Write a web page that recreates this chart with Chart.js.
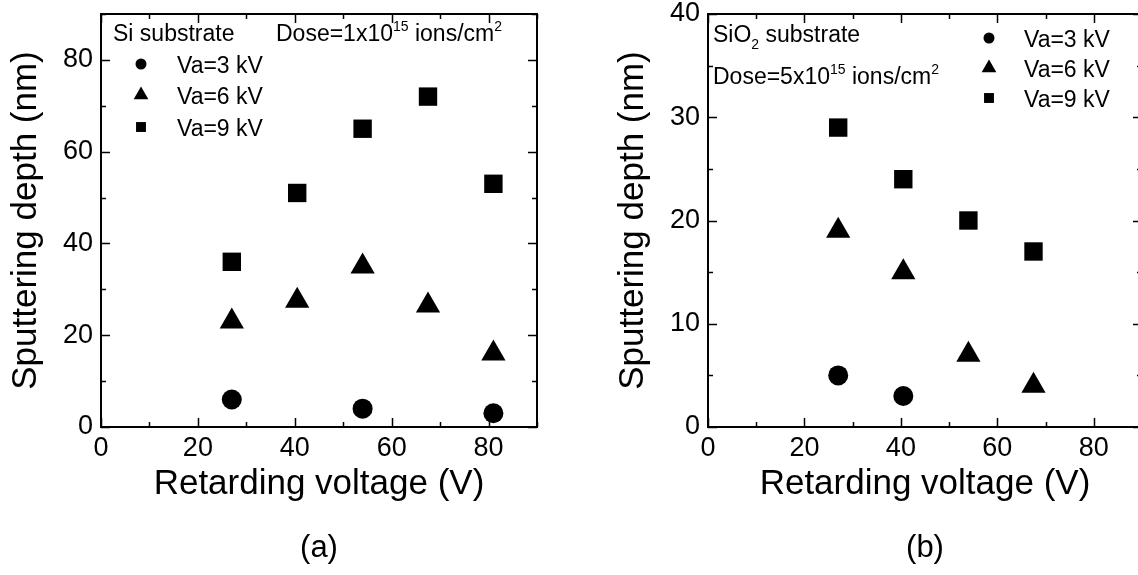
<!DOCTYPE html>
<html>
<head>
<meta charset="utf-8">
<script src="https://cdn.jsdelivr.net/npm/chart.js@4/dist/chart.umd.min.js"></script>
<style>
  html, body { margin: 0; padding: 0; background: #fff; overflow: hidden; }
  body { width: 1138px; height: 575px; position: relative; }
  .panel { position: absolute; top: 0; }
  #wrapA { left: 0; }
  #wrapB { left: 607px; }
</style>
</head>
<body>
<div class="panel" id="wrapA"><canvas id="cA" width="569" height="575"></canvas></div>
<div class="panel" id="wrapB"><canvas id="cB" width="600" height="575"></canvas></div>
<script>
// ---- data ----
// (a) Si substrate, dose 1x10^15 ions/cm^2
const siX3 = [27, 54, 81];
const siY3 = [6, 4, 3];
const siX6 = [27, 40.5, 54, 67.5, 81];
const siY6 = [23, 27.5, 35, 26.5, 16];
const siX9 = [27, 40.5, 54, 67.5, 81];
const siY9 = [36, 51, 65, 72, 53];

// (b) SiO2 substrate, dose 5x10^15 ions/cm^2
const oxX3 = [27, 40.5];
const oxY3 = [5, 3];
const oxX6 = [27, 40.5, 54, 67.5];
const oxY6 = [19, 15, 7, 4];
const oxX9 = [27, 40.5, 54, 67.5];
const oxY9 = [29, 24, 20, 17];

// tick values
const xTicks = [0, 20, 40, 60, 80];
const xMinorTicks = [10, 30, 50, 70, 90];
const yTicksA = [0, 20, 40, 60, 80];
const yMinorTicksA = [10, 30, 50, 70, 90];
const yTicksB = [0, 10, 20, 30, 40];
const yMinorTicksB = [5, 15, 25, 35];

const seriesLabels = ['Va=3 kV', 'Va=6 kV', 'Va=9 kV'];
const FONT = "'Liberation Sans', Arial, sans-serif";

function pts(xs, ys) { return xs.map((x, i) => ({x: x, y: ys[i]})); }

// frame + inward ticks on all four sides
const framePlugin = {
  id: 'frame',
  afterDatasetsDraw(chart, args, opts) {
    const {ctx, chartArea: ca, scales} = chart;
    const xs = scales.x, ys = scales.y;
    ctx.save();
    ctx.strokeStyle = '#000';
    ctx.lineWidth = 2;
    ctx.strokeRect(ca.left, ca.top, ca.right - ca.left, ca.bottom - ca.top);
    ctx.lineWidth = 1.5;
    const tick = (vals, len) => {
      vals.forEach(v => {
        const px = Math.round(xs.getPixelForValue(v)) + 0.5;
        if (px < ca.left - 1 || px > ca.right + 1) return;
        ctx.beginPath();
        ctx.moveTo(px, ca.bottom); ctx.lineTo(px, ca.bottom - len);
        ctx.moveTo(px, ca.top); ctx.lineTo(px, ca.top + len);
        ctx.stroke();
      });
    };
    const ytick = (vals, len) => {
      vals.forEach(v => {
        const py = Math.round(ys.getPixelForValue(v)) + 0.5;
        if (py < ca.top - 1 || py > ca.bottom + 1) return;
        ctx.beginPath();
        ctx.moveTo(ca.left, py); ctx.lineTo(ca.left + len, py);
        ctx.moveTo(ca.right, py); ctx.lineTo(ca.right - len, py);
        ctx.stroke();
      });
    };
    tick(opts.xMajor, 9); tick(opts.xMinor, 5);
    ytick(opts.yMajor, 9); ytick(opts.yMinor, 5);
    ctx.restore();
  }
};

function drawSymbol(ctx, style, x, y, r) {
  ctx.beginPath();
  if (style === 'circle') {
    ctx.arc(x, y, r, 0, Math.PI * 2);
  } else if (style === 'triangle') {
    const h = r * Math.sqrt(3) / 2;
    ctx.moveTo(x, y - r);
    ctx.lineTo(x + h, y + r / 2);
    ctx.lineTo(x - h, y + r / 2);
    ctx.closePath();
  } else {
    const s = r * Math.SQRT1_2;
    ctx.rect(x - s, y - s, 2 * s, 2 * s);
  }
  ctx.fill();
}

// text with super/subscripts: parts = [[text, 'sup'|'sub'|'']]
function drawRich(ctx, parts, x, y, size) {
  let cx = x;
  parts.forEach(([t, mode]) => {
    let fs = size, dy = 0;
    if (mode === 'sup') { fs = Math.round(size * 0.62); dy = -size * 0.45; }
    if (mode === 'sub') { fs = Math.round(size * 0.62); dy = size * 0.3; }
    ctx.font = fs + 'px ' + FONT;
    ctx.fillText(t, cx, y + dy);
    cx += ctx.measureText(t).width;
  });
}

// in-plot captions, key and panel label
const notesPlugin = {
  id: 'notes',
  afterDraw(chart, args, opts) {
    const {ctx, chartArea: ca} = chart;
    ctx.save();
    ctx.fillStyle = '#000';
    ctx.textBaseline = 'alphabetic';
    ctx.textAlign = 'left';
    opts.captions.forEach(c => drawRich(ctx, c.parts, ca.left + c.dx, c.y, 23));
    const styles = ['circle', 'triangle', 'rect'];
    const rads = [5.5, 8.5, 7];
    opts.key.rows.forEach((yc, i) => {
      drawSymbol(ctx, styles[i], ca.left + opts.key.symX, yc, rads[i]);
      ctx.font = '23px ' + FONT;
      ctx.fillText(seriesLabels[i], ca.left + opts.key.textX, yc + 8.5);
    });
    ctx.font = '31px ' + FONT;
    ctx.textAlign = 'center';
    ctx.textBaseline = 'middle';
    ctx.fillText(opts.panel, (ca.left + ca.right) / 2, 548);
    ctx.restore();
  }
};

function makeChart(id, d, yMax, yMajor, yMinor, padRight, notes) {
  const markerSet = [
    {style: 'circle', r: 10},
    {style: 'triangle', r: 14},
    {style: 'rect', r: 13}
  ];
  return new Chart(document.getElementById(id), {
    type: 'scatter',
    data: {
      datasets: d.map((pts, i) => ({
        label: seriesLabels[i],
        data: pts,
        pointStyle: markerSet[i].style,
        pointRadius: markerSet[i].r,
        pointBackgroundColor: '#000',
        pointBorderWidth: 0,
        showLine: false
      }))
    },
    options: {
      responsive: false,
      animation: false,
      events: [],
      layout: {padding: {left: 0, top: 12, right: padRight, bottom: 70}},
      plugins: {
        legend: {display: false},
        tooltip: {enabled: false},
        frame: {xMajor: xTicks, xMinor: xMinorTicks, yMajor: yMajor, yMinor: yMinor},
        notes: notes
      },
      scales: {
        x: {
          type: 'linear', min: 0, max: 90,
          grid: {display: false, drawTicks: false},
          border: {display: false},
          afterBuildTicks: s => { s.ticks = xTicks.map(v => ({value: v})); },
          afterFit: s => { s.height = 78; s.paddingLeft = 0; s.paddingRight = 0; },
          ticks: {color: '#000', padding: 5, maxRotation: 0, font: {family: FONT, size: 27}},
          title: {display: true, text: 'Retarding voltage (V)', color: '#000', padding: 0,
                  font: {family: FONT, size: 35}}
        },
        y: {
          type: 'linear', min: 0, max: yMax,
          grid: {display: false, drawTicks: false},
          border: {display: false},
          afterBuildTicks: s => { s.ticks = yMajor.map(v => ({value: v})); },
          afterFit: s => { s.width = 101; s.paddingTop = 0; s.paddingBottom = 0; },
          ticks: {color: '#000', padding: 8, font: {family: FONT, size: 27}},
          title: {display: true, text: 'Sputtering depth (nm)', color: '#000',
                  padding: {top: 5, bottom: 0}, font: {family: FONT, size: 35}}
        }
      }
    },
    plugins: [framePlugin, notesPlugin]
  });
}

makeChart('cA',
  [pts(siX3, siY3), pts(siX6, siY6), pts(siX9, siY9)],
  90, yTicksA, yMinorTicksA, 32,
  {
    captions: [
      {dx: 12, y: 41, parts: [['Si substrate', '']]},
      {dx: 175, y: 41, parts: [['Dose=1x10', ''], ['15', 'sup'], [' ions/cm', ''], ['2', 'sup']]}
    ],
    key: {symX: 40, textX: 76, rows: [64, 95, 127]},
    panel: '(a)'
  });

makeChart('cB',
  [pts(oxX3, oxY3), pts(oxX6, oxY6), pts(oxX9, oxY9)],
  40, yTicksB, yMinorTicksB, 65,
  {
    captions: [
      {dx: 5, y: 42, parts: [['SiO', ''], ['2', 'sub'], [' substrate', '']]},
      {dx: 5, y: 84, parts: [['Dose=5x10', ''], ['15', 'sup'], [' ions/cm', ''], ['2', 'sup']]}
    ],
    key: {symX: 281, textX: 316, rows: [38, 68, 98]},
    panel: '(b)'
  });
</script>
</body>
</html>
